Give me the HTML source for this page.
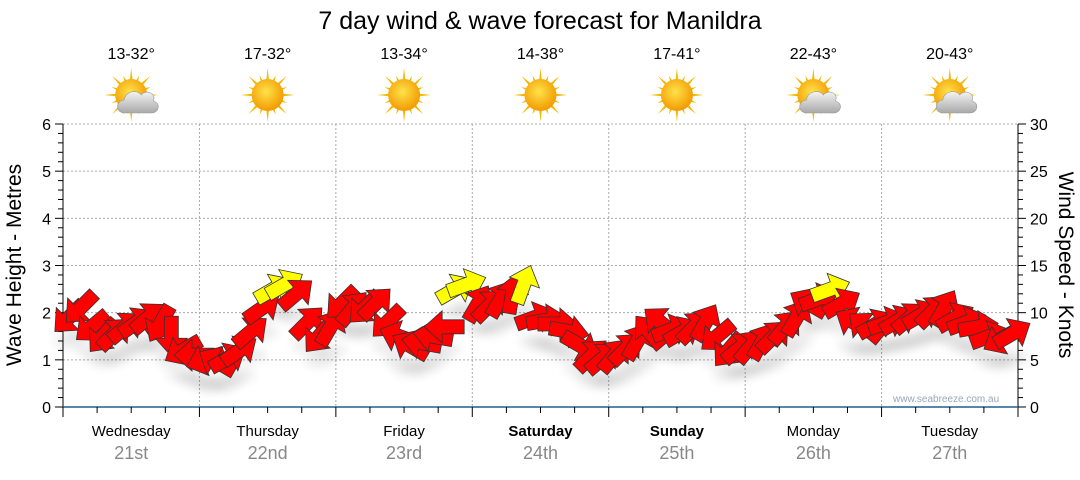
<!DOCTYPE html>
<html><head><meta charset="utf-8"><style>
body{margin:0;background:#fff;width:1080px;height:475px;overflow:hidden;font-family:"Liberation Sans",sans-serif}
svg text{font-family:"Liberation Sans",sans-serif}
</style></head><body>
<svg id="c" width="1080" height="475">
<defs>
<filter id="sh" x="-50%" y="-50%" width="200%" height="250%"><feGaussianBlur stdDeviation="5"/></filter>
<radialGradient id="sun" cx="45%" cy="40%" r="60%"><stop offset="0" stop-color="#ffe24a"/><stop offset="1" stop-color="#f29a00"/></radialGradient>
<linearGradient id="cloud" x1="0" y1="0" x2="0" y2="1"><stop offset="0" stop-color="#f4f4f4"/><stop offset="1" stop-color="#a8a8a8"/></linearGradient>
</defs>
<text x="540" y="29" font-size="25" text-anchor="middle" fill="#000">7 day wind &amp; wave forecast for Manildra</text>
<g id="grid"></g><g id="axes"></g><g id="icons"></g><g id="shadows"></g><g id="arrows"></g>
<text x="893" y="402" font-size="10" fill="#9aa6b6">www.seabreeze.com.au</text>
<text transform="translate(21,265) rotate(-90)" font-size="21" text-anchor="middle">Wave Height - Metres</text>
<text transform="translate(1059,265) rotate(90)" font-size="21" text-anchor="middle">Wind Speed - Knots</text>
</svg>
<script>
const days=["Wednesday","Thursday","Friday","Saturday","Sunday","Monday","Tuesday"];
const dates=["21st","22nd","23rd","24th","25th","26th","27th"];
const temps=["13-32°","17-32°","13-34°","14-38°","17-41°","22-43°","20-43°"];
const cloudy=[1,0,0,0,0,1,1];
const leftTicks=[0,1,2,3,4,5,6];
const rightTicks=[0,5,10,15,20,25,30];
const windKnots=[9.5,10.5,8.5,7.5,7.8,8.5,9,9.5,8.8,7.5,6,5.5,
5,4.8,5.2,6,8,10.5,12.5,13,12,9,7.5,8.5,
11,10.5,10.5,11,9,7.5,6.5,6.8,7.5,8.5,12.5,13,
11,10.8,11.5,12,13,9.5,9.2,8.8,8,6.5,5.5,5.2,
5.5,6.2,7,8,9,8.2,8,8.5,9,7.5,6,6.3,
6.5,7,7.5,8.5,9.5,11,11.5,12.5,11,9,8.5,8.8,
9,9.2,9.5,9.8,10.2,10.5,9.5,9,8.5,7.5,7.2,7.8];
const windDir=[135,135,140,130,-45,-40,-35,-40,120,90,150,180,
160,-150,-30,-35,-40,-35,-30,-30,-40,-45,130,-60,
135,-50,135,-45,135,-160,-150,-170,-170,180,-30,-20,
-60,-45,-60,-80,-70,-20,-10,0,10,30,-45,-40,
-50,-45,-60,-130,-140,-20,-30,-45,-60,140,130,-40,
-50,-60,-45,-50,-60,-150,-20,-20,-30,-150,-140,-30,
-20,-30,-40,-30,-45,-60,-30,-20,-10,-20,150,-30];
const yellowIdx=[18,19,34,35,40,67];
const NS="http://www.w3.org/2000/svg";
const X0=63,X1=1018,Y0=407,Y1=124;
const dayW=(X1-X0)/7;
const yM=m=>Y0-(m/6)*(Y0-Y1);
const yK=k=>Y0-(k/30)*(Y0-Y1);
const xT=i=>X0+i*dayW/12+6;
function mk(tag,attrs,parent){const e=document.createElementNS(NS,tag);for(const k in attrs)e.setAttribute(k,attrs[k]);parent.appendChild(e);return e;}
const grid=document.getElementById('grid'),axes=document.getElementById('axes'),icons=document.getElementById('icons');
leftTicks.forEach(t=>{if(t>0){const l=mk('line',{x1:X0,x2:X1,y1:yM(t),y2:yM(t),stroke:'#aaa','stroke-dasharray':'2,2'},grid);

}
const tx=mk('text',{x:X0-12,y:yM(t)+6,'font-size':16,'text-anchor':'end'},axes);tx.textContent=t;

});
rightTicks.forEach(t=>{const tx=mk('text',{x:X1+12,y:yK(t)+6,'font-size':16},axes);tx.textContent=t;

});
for(let k=0;k<=30;k++){mk('line',{x1:X1,x2:X1+(k%5?5:8),y1:yK(k),y2:yK(k),stroke:'#000'},axes);}
for(let m=0;m<=30;m++){mk('line',{x1:X0,x2:X0-(m%5?5:8),y1:yM(m/5),y2:yM(m/5),stroke:'#000'},axes);}
mk('line',{x1:X0,x2:X0,y1:Y1,y2:Y0+10,stroke:'#000'},axes);
mk('line',{x1:X1,x2:X1,y1:Y1,y2:Y0+10,stroke:'#000'},axes);
mk('line',{x1:X0,x2:X1,y1:Y0,y2:Y0,stroke:'#1f5f8f','stroke-width':1.5},axes);
for(let d=0;d<7;d++){
 const xs=X0+d*dayW,cx=xs+dayW/2;
 if(d>0){mk('line',{x1:xs,x2:xs,y1:Y1,y2:Y0,stroke:'#aaa','stroke-dasharray':'2,2'},grid);}
 mk('line',{x1:xs,x2:xs,y1:Y0,y2:Y0+10,stroke:'#000'},axes);
 for(let q=1;q<4;q++)mk('line',{x1:xs+q*dayW/4,x2:xs+q*dayW/4,y1:Y0,y2:Y0+6,stroke:'#000'},axes);
 const dn=mk('text',{x:cx,y:436,'font-size':15,'text-anchor':'middle','font-weight':(d==3||d==4)?'bold':'normal'},axes);dn.textContent=days[d];
 
 
 const dt=mk('text',{x:cx,y:459,'font-size':18,'text-anchor':'middle',fill:'#888'},axes);dt.textContent=dates[d];
 
 
 const tp=mk('text',{x:cx,y:59,'font-size':16,'text-anchor':'middle'},icons);tp.textContent=temps[d];
 
 
 const g=mk('g',{transform:`translate(${cx},${95})`},icons);
 
 
 for(let r=0;r<16;r++){const a=r*Math.PI/8,L=r%2?21:27;
  mk('polygon',{points:`${Math.cos(a-0.12)*13},${Math.sin(a-0.12)*13} ${Math.cos(a)*L},${Math.sin(a)*L} ${Math.cos(a+0.12)*13},${Math.sin(a+0.12)*13}`,fill:'#f3b800'},g);}
 mk('circle',{r:16,fill:'url(#sun)'},g);
 if(cloudy[d]){mk('path',{d:'M-6,18 C-16,18 -16,6 -7,5 C-6,-4 6,-6 10,0 C14,-6 26,-2 22,6 C30,8 28,18 20,18 Z',fill:'url(#cloud)',stroke:'#999','stroke-width':0.6},g);}
}
const arrows=document.getElementById('arrows'),shadows=document.getElementById('shadows');
const shape='M-20,-7 L2,-7 L2,-16 L20,0 L2,16 L2,7 L-20,7 Z';
windKnots.forEach((k,i)=>{
 const x=xT(i),y=yK(k);
 const s=mk('ellipse',{cx:x,cy:y+24,rx:16,ry:7,fill:'#000',opacity:0.08,filter:'url(#sh)'},shadows);
 
 
 const p=mk('path',{d:shape,transform:`translate(${x},${y}) rotate(${windDir[i]})`,fill:yellowIdx.includes(i)?'#ffff00':'#ff0000',stroke:'#333','stroke-width':0.8},arrows);
 
 
});
</script>
</body></html>
